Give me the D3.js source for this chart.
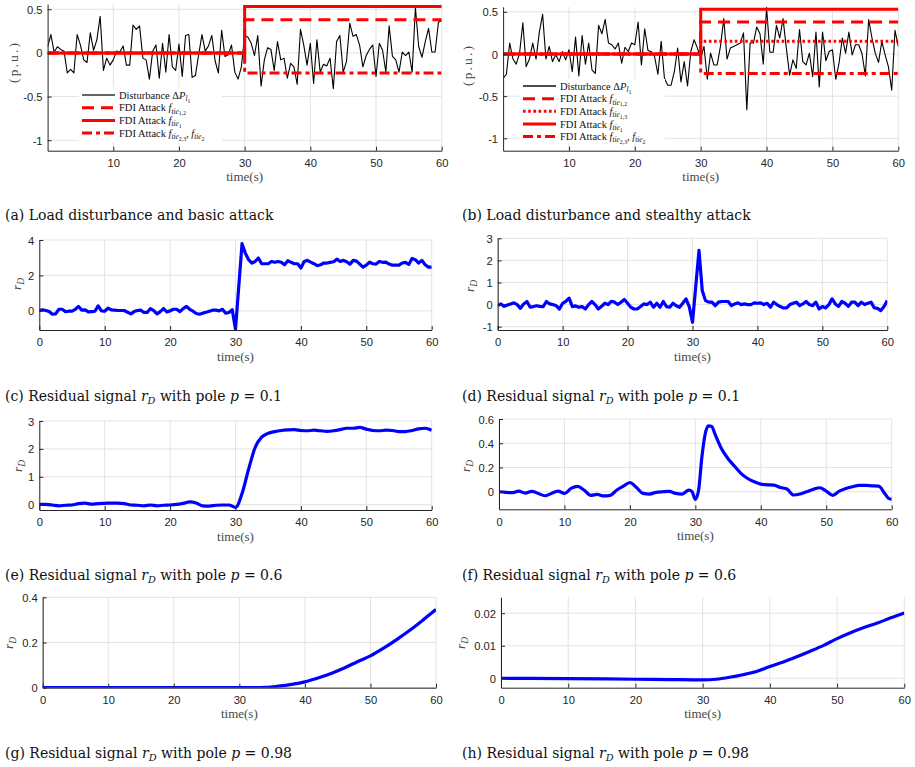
<!DOCTYPE html>
<html>
<head>
<meta charset="utf-8">
<script src="https://cdn.jsdelivr.net/npm/d3@7"></script>
<style>
  body { margin: 0; background: #fff; }
  svg { display: block; }
  text { white-space: pre; }
</style>
</head>
<body>
<svg id="fig" width="915" height="767"></svg>
<script>
// ---------------------------------------------------------------------------
// Data
// ---------------------------------------------------------------------------
// Sampling step (s) of the disturbance records and the p = 0.1 residuals
const STEP = 0.5;
const T_END = 60;
const attackStart = 30;

// Load disturbance ΔP_l1, basic-attack case (t = 0 … 60 s, step 0.5 s)
const disturbanceBasic = [
  0.07, 0.21, 0.01, 0.07, 0.04, 0.02, -0.23, -0.19, -0.23, 0.21,
  0.09, -0.08, -0.11, 0.23, 0.03, 0.15, 0.42, -0.20, -0.06, -0.14,
  -0.08, 0.02, 0.01, 0.08, -0.14, -0.14, 0.32, 0.27, 0.31, -0.06,
  -0.08, -0.30, 0.02, 0.09, -0.29, 0.11, -0.22, 0.21, -0.16, -0.20,
  0.10, -0.27, 0.20, 0.21, -0.28, -0.26, -0.02, 0.21, 0.02, 0.08,
  0.20, -0.09, -0.23, 0.26, -0.04, -0.02, 0.09, -0.22, -0.30, -0.16,
  0.20,
  0.18, 0.11, -0.03, 0.20, -0.38, -0.08, 0.06, 0.04, -0.20, 0.13,
  -0.08, -0.06, -0.29, -0.12, -0.16, -0.36, 0.27, 0.09, -0.14, 0.11,
  -0.35, 0.15, -0.22, -0.13, -0.15, -0.06, -0.41, 0.13, 0.20, -0.22,
  -0.10, 0.34, 0.19, 0.21, 0.09, -0.16, -0.03, 0.04, 0.09, -0.27,
  0.11, 0.03, -0.22, 0.31, -0.04, -0.08, -0.22, 0.01, -0.03, 0.01,
  -0.22, 0.52, 0.07, -0.05, 0.13, 0.28, 0.01, 0.01, 0.35, 0.37
];

// Load disturbance ΔP_l1, stealthy-attack case (t = 0 … 60 s, step 0.5 s)
const disturbanceStealthy = [
  -0.29, -0.24, 0.13, -0.06, -0.12, 0.01, 0.37, -0.15, -0.06, 0.13,
  -0.06, 0.26, 0.47, -0.06, 0.09, -0.09, -0.01, -0.09, 0.03, -0.07,
  0.05, -0.21, 0.20, -0.26, 0.22, -0.12, 0.13, -0.19, -0.23, 0.34,
  0.24, 0.41, 0.13, 0.11, 0.06, 0.13, -0.11, 0.08, 0.03, 0.13,
  0.11, 0.38, -0.13, 0.30, 0.04, 0.03, -0.03, -0.24, 0.15, -0.29,
  -0.37, -0.37, -0.21, 0.07, -0.33, -0.09, -0.38, 0.03, 0.17, 0.07,
  -0.05,
  0.09, -0.30, 0.01, -0.13, -0.13, 0.09, 0.42, -0.06, 0.07, 0.09,
  0.11, 0.13, 0.25, -0.66, 0.13, 0.13, 0.32, 0.24, -0.12, 0.55,
  0.02, 0.02, 0.34, 0.19, 0.42, 0.07, -0.25, -0.07, -0.17, 0.29,
  -0.09, -0.13, 0.01, -0.27, 0.26, -0.39, 0.26, -0.08, 0.03, 0.05,
  -0.30, -0.11, 0.19, 0.01, 0.26, -0.01, 0.11, 0.11, 0.00, -0.26,
  0.41, 0.19, 0.01, -0.10, 0.15, -0.01, -0.15, -0.43, 0.28, 0.09
];

// FDI attack levels applied from t = 30 s
// basic attack:    [f_tie12, f_tie1, f_tie23 = f_tie2]
const attackBasic = [0.38, 0.53, -0.23];
// stealthy attack: [f_tie12, f_tie13, f_tie1, f_tie23 = f_tie2]
const attackStealthy = [0.38, 0.15, 0.53, -0.23];

// Residual r_D, pole p = 0.1 (t = 0 … 60 s, step 0.5 s)
const residualP01Basic = [
  0.02, 0.06, 0.02, -0.04, -0.19, -0.17, 0.09, 0.09, -0.04, -0.02,
  -0.02, 0.09, 0.25, 0.04, 0.06, -0.06, -0.04, -0.02, 0.28, 0.00,
  -0.02, 0.15, 0.06, 0.04, 0.02, 0.02, 0.02, -0.08, -0.17, -0.04,
  0.02, 0.04, -0.09, -0.09, 0.13, 0.02, -0.17, -0.04, 0.13, -0.06,
  0.00, 0.09, 0.09, -0.04, 0.13, 0.25, 0.09, -0.02, -0.15, -0.19,
  -0.13, -0.08, -0.02, 0.04, 0.04, 0.00, 0.09, -0.13, -0.09, 0.06,
  -1.04,
  1.38, 3.79, 3.26, 2.89, 2.70, 2.79, 2.98, 2.66, 2.66, 2.66,
  2.79, 2.74, 2.79, 2.74, 2.60, 2.83, 2.74, 2.66, 2.66, 2.42,
  2.79, 2.85, 2.75, 2.66, 2.55, 2.60, 2.70, 2.70, 2.74, 2.77,
  2.92, 2.79, 2.85, 2.77, 2.64, 2.85, 2.81, 2.64, 2.47, 2.58,
  2.75, 2.66, 2.64, 2.79, 2.74, 2.75, 2.64, 2.58, 2.58, 2.58,
  2.70, 2.74, 2.62, 2.96, 2.89, 2.70, 2.85, 2.60, 2.47, 2.47
];
const residualP01Stealthy = [
  -0.05, 0.03, -0.08, -0.02, 0.03, 0.08, 0.00, -0.17, 0.03, 0.14,
  -0.12, -0.09, -0.05, -0.08, -0.09, 0.14, 0.03, 0.00, -0.05, -0.20,
  0.06, 0.15, 0.29, -0.09, -0.06, -0.12, -0.09, -0.20, 0.00, 0.14,
  0.00, -0.20, -0.08, 0.06, 0.00, 0.15, 0.11, 0.00, 0.11, 0.23,
  0.06, -0.12, -0.20, -0.20, -0.09, 0.03, 0.00, 0.11, -0.12, 0.06,
  -0.12, 0.14, -0.09, -0.12, 0.06, -0.05, -0.12, 0.06, 0.26, -0.09,
  -0.80,
  0.82, 2.45, 0.64, 0.18, 0.11, 0.11, -0.05, 0.11, 0.14, 0.14,
  0.14, -0.05, 0.03, 0.08, 0.00, 0.03, 0.00, 0.00, 0.08, 0.06,
  0.08, 0.00, 0.06, -0.12, 0.11, 0.00, -0.09, -0.15, -0.15, 0.00,
  0.06, 0.11, -0.05, 0.03, 0.14, 0.00, -0.05, 0.11, -0.20, -0.09,
  -0.15, 0.00, 0.26, 0.03, -0.08, 0.14, 0.06, -0.08, 0.11, 0.11,
  -0.05, 0.11, 0.00, 0.06, 0.11, -0.15, -0.17, -0.27, -0.09, 0.18
];

// Residual r_D, pole p = 0.6
const timeP06Basic = [
  0, 1, 2, 3, 4, 5, 6, 7, 8, 9, 10, 11, 12, 13, 14, 15, 16, 17, 18, 19,
  20, 21, 22, 23, 24, 25, 26, 27, 28, 29, 30, 31, 32, 33, 34, 35, 36, 37, 38, 39,
  40, 41, 42, 43, 44, 45, 46, 47, 48, 49, 50, 51, 52, 53, 54, 55, 56, 57, 58, 59, 60
];
const residualP06Basic = [
  0.01, 0.01, -0.01, -0.04, -0.02, -0.01, 0.04, 0.06, 0.02, 0.04,
  0.05, 0.06, 0.06, 0.04, -0.01, -0.02, -0.04, -0.01, -0.04, -0.02,
  -0.01, 0.01, 0.05, 0.10, 0.06, -0.04, -0.05, -0.02, -0.01, -0.01,
  -0.10, 0.40, 1.27, 2.05, 2.42, 2.56, 2.62, 2.66, 2.68, 2.69,
  2.66, 2.65, 2.67, 2.65, 2.63, 2.65, 2.69, 2.74, 2.74, 2.77,
  2.71, 2.66, 2.65, 2.67, 2.66, 2.62, 2.62, 2.66, 2.72, 2.74,
  2.67
];
const timeP06Stealthy = [
  0, 1, 2, 3, 4, 5, 6, 7, 8, 9, 10, 11, 12, 13, 14, 15, 16, 17, 18, 19,
  20, 21, 22, 23, 24, 25, 26, 27, 28, 29, 29.5, 30, 30.5, 31, 31.5, 32, 32.5, 33,
  34, 35, 36, 37, 38, 39, 40, 41, 42, 43, 44, 45, 46, 47, 48, 49,
  50, 51, 52, 53, 54, 55, 56, 57, 58, 59, 59.5, 60
];
const residualP06Stealthy = [
  0.000, -0.005, -0.008, 0.005, -0.011, 0.003, -0.014, -0.033, -0.014, 0.005,
  -0.014, 0.027, 0.044, 0.014, -0.030, -0.022, -0.035, -0.030, 0.014, 0.046,
  0.076, 0.035, -0.014, -0.019, -0.005, 0.000, 0.003, -0.014, -0.019, 0.014,
  0.000, -0.063, 0.014, 0.286, 0.476, 0.544, 0.539, 0.476,
  0.354, 0.272, 0.210, 0.150, 0.109, 0.082, 0.063, 0.057, 0.054, 0.035,
  0.022, -0.027, -0.019, 0.000, 0.019, 0.033, 0.005, -0.030, 0.005, 0.027,
  0.041, 0.052, 0.052, 0.049, 0.046, -0.019, -0.054, -0.063
];

// Residual r_D, pole p = 0.98
const timeP098Basic = [0, 10, 20, 30, 32, 34, 36, 38, 40, 42, 44, 46, 48, 50, 52, 54, 56, 58, 60];
const residualP098Basic = [
  0, 0, 0, 0, 0.0003, 0.0015, 0.007, 0.015, 0.026, 0.043,
  0.063, 0.087, 0.115, 0.141, 0.175, 0.213, 0.254, 0.299, 0.346
];
const timeP098Stealthy = [0, 10, 20, 25, 30, 32, 34, 36, 38, 40, 42, 44, 46, 48, 50, 52, 54, 56, 58, 60];
const residualP098Stealthy = [
  0, -0.0001, -0.0003, -0.0004, -0.0005, -0.0003, 0.0003, 0.0011, 0.0021, 0.0036,
  0.0050, 0.0066, 0.0083, 0.0101, 0.0122, 0.0140, 0.0156, 0.0170, 0.0186, 0.0201
];

// Tick values and labels
const xTicksAttack = [10, 20, 30, 40, 50, 60];
const xTicksResidual = [0, 10, 20, 30, 40, 50, 60];
const yTicksPU = [-1, -0.5, 0, 0.5];
const yLabelsPU = ["-1", "-0.5", "0", "0.5"];
const yTicksC = [0, 2, 4];
const yLabelsC = ["0", "2", "4"];
const yTicksD = [-1, 0, 1, 2, 3];
const yLabelsD = ["-1", "0", "1", "2", "3"];
const yTicksE = [0, 1, 2, 3];
const yLabelsE = ["0", "1", "2", "3"];
const yTicksF = [0, 0.2, 0.4, 0.6];
const yLabelsF = ["0", "0.2", "0.4", "0.6"];
const yTicksG = [0, 0.2, 0.4];
const yLabelsG = ["0", "0.2", "0.4"];
const yTicksH = [0, 0.01, 0.02];
const yLabelsH = ["0", "0.01", "0.02"];

// ---------------------------------------------------------------------------
// Styles
// ---------------------------------------------------------------------------
const RED = "#ff0000", BLUE = "#0000ff", BLACK = "#000000";
const AXIS = "#262626", GRID = "#e3e3e3", LABEL = "#474747";
const SANS = "'Liberation Sans', Arial, sans-serif";
const SERIF = "'Liberation Serif', 'Times New Roman', serif";
const CAPTION_SERIF = "'DejaVu Serif', serif";
const DASH = "12,7", DOT = "2.6,2.6", DASHDOT = "10,4,4,4";

const styleDist = { stroke: BLACK, width: 1.1, dash: null };
const styleTie12 = { stroke: RED, width: 3, dash: DASH };
const styleTie13 = { stroke: RED, width: 3, dash: DOT };
const styleTie1 = { stroke: RED, width: 3, dash: null };
const styleTie23 = { stroke: RED, width: 3, dash: DASHDOT };

// Math-style labels: parts with italic flag and subscript level
const labDist = [{ t: "Disturbance Δ" }, { t: "P", i: 1 }, { t: "l", i: 1, l: 1 }, { t: "1", l: 2 }];
const labTie12 = [{ t: "FDI Attack " }, { t: "f", i: 1 }, { t: "tie", i: 1, l: 1 }, { t: "1,2", l: 2 }];
const labTie13 = [{ t: "FDI Attack " }, { t: "f", i: 1 }, { t: "tie", i: 1, l: 1 }, { t: "1,3", l: 2 }];
const labTie1 = [{ t: "FDI Attack " }, { t: "f", i: 1 }, { t: "tie", i: 1, l: 1 }, { t: "1", l: 2 }];
const labTie23 = [{ t: "FDI Attack " }, { t: "f", i: 1 }, { t: "tie", i: 1, l: 1 }, { t: "2,3", l: 2 },
                  { t: ", " }, { t: "f", i: 1 }, { t: "tie", i: 1, l: 1 }, { t: "2", l: 2 }];
const labRD = [{ t: "r", i: 1 }, { t: "D", i: 1, l: 1 }];

function residualCaption(letter, pole) {
  return [{ t: "(" + letter + ") Residual signal " }, { t: "r", i: 1 }, { t: "D", i: 1, l: 1 },
          { t: " with pole " }, { t: "p", i: 1 }, { t: " = " + pole }];
}

// ---------------------------------------------------------------------------
// Helpers
// ---------------------------------------------------------------------------
const svg = d3.select("#fig");

function richText(sel, parts, size) {
  const scale = [1, 0.7, 0.55];
  const shift = [0, 0.22, 0.4];
  let cur = 0;
  parts.forEach(p => {
    const lvl = p.l || 0;
    const off = shift[lvl] * size;
    sel.append("tspan")
      .attr("dy", (off - cur).toFixed(2))
      .attr("font-size", size * scale[lvl])
      .attr("font-style", p.i ? "italic" : "normal")
      .text(p.t);
    cur = off;
  });
  return sel;
}

function stepSeries(level) {
  return [[0, 0], [attackStart, 0], [attackStart, level], [T_END, level]];
}

function applyStyle(sel, st) {
  sel.attr("fill", "none")
    .attr("stroke", st.stroke)
    .attr("stroke-width", st.width)
    .attr("stroke-dasharray", st.dash);
}

// ---------------------------------------------------------------------------
// Panels
// ---------------------------------------------------------------------------
const panels = [
  { id: "a", x0: 47.6, x1: 441.7, y0: 4, y1: 150.7, yd: [-1.12, 0.56],
    xt: xTicksAttack, yt: yTicksPU, ytl: yLabelsPU,
    ylab: "pu", ylx: 14, yly: 63, capX: 5, capY: 220,
    caption: [{ t: "(a) Load disturbance and basic attack" }] },
  { id: "b", x0: 503.1, x1: 898.3, y0: 6.8, y1: 150.7, yd: [-1.147, 0.56],
    xt: xTicksAttack, yt: yTicksPU, ytl: yLabelsPU,
    ylab: "pu", ylx: 468, yly: 66, capX: 462, capY: 220,
    caption: [{ t: "(b) Load disturbance and stealthy attack" }] },
  { id: "c", x0: 39.3, x1: 431.7, y0: 240, y1: 330, yd: [-1.08, 4],
    xt: xTicksResidual, yt: yTicksC, ytl: yLabelsC,
    ylab: "rd", ylx: 21, yly: 284, capX: 5, capY: 401,
    caption: residualCaption("c", "0.1") },
  { id: "d", x0: 497.7, x1: 887.3, y0: 238.3, y1: 330, yd: [-1.15, 3],
    xt: xTicksResidual, yt: yTicksD, ytl: yLabelsD,
    ylab: "rd", ylx: 474, yly: 286, capX: 462, capY: 401,
    caption: residualCaption("d", "0.1") },
  { id: "e", x0: 39.3, x1: 431.7, y0: 421, y1: 510, yd: [-0.19, 3],
    xt: xTicksResidual, yt: yTicksE, ytl: yLabelsE,
    ylab: "rd", ylx: 22, yly: 466, capX: 5, capY: 580,
    caption: residualCaption("e", "0.6") },
  { id: "f", x0: 499, x1: 891.7, y0: 419, y1: 509.3, yd: [-0.145, 0.6],
    xt: xTicksResidual, yt: yTicksF, ytl: yLabelsF,
    ylab: "rd", ylx: 470, yly: 466, capX: 462, capY: 580,
    caption: residualCaption("f", "0.6") },
  { id: "g", x0: 42.7, x1: 436, y0: 597.3, y1: 687.7, yd: [0, 0.4],
    xt: xTicksResidual, yt: yTicksG, ytl: yLabelsG,
    ylab: "rd", ylx: 13, yly: 643, capX: 5, capY: 758,
    caption: residualCaption("g", "0.98") },
  { id: "h", x0: 501, x1: 904.3, y0: 597.3, y1: 687.7, yd: [-0.0029, 0.0249],
    xt: xTicksResidual, yt: yTicksH, ytl: yLabelsH,
    ylab: "rd", ylx: 465, yly: 643, capX: 462, capY: 758,
    caption: residualCaption("h", "0.98") }
];

const defs = svg.append("defs");

panels.forEach(p => {
  p.xs = d3.scaleLinear().domain([0, T_END]).range([p.x0, p.x1]);
  p.ys = d3.scaleLinear().domain(p.yd).range([p.y1, p.y0]);

  const g = svg.append("g").attr("class", "panel-" + p.id);

  // grid
  g.append("g").selectAll("line").data(p.xt).join("line")
    .attr("x1", d => p.xs(d)).attr("x2", d => p.xs(d))
    .attr("y1", p.y0).attr("y2", p.y1)
    .attr("stroke", GRID).attr("stroke-width", 1);
  g.append("g").selectAll("line").data(p.yt).join("line")
    .attr("x1", p.x0).attr("x2", p.x1)
    .attr("y1", d => p.ys(d)).attr("y2", d => p.ys(d))
    .attr("stroke", GRID).attr("stroke-width", 1);

  // clip region for the data
  defs.append("clipPath").attr("id", "clip-" + p.id)
    .append("rect")
    .attr("x", p.x0).attr("y", p.y0 - 1)
    .attr("width", p.x1 - p.x0).attr("height", p.y1 - p.y0 + 1);
  p.plot = g.append("g").attr("clip-path", `url(#clip-${p.id})`);

  // axes
  const xAxis = g.append("g").attr("transform", `translate(0,${p.y1})`)
    .call(d3.axisBottom(p.xs).tickValues(p.xt).tickFormat(d => String(d))
      .tickSizeInner(-4).tickSizeOuter(0).tickPadding(8.5));
  const yAxis = g.append("g").attr("transform", `translate(${p.x0},0)`)
    .call(d3.axisLeft(p.ys).tickValues(p.yt).tickFormat((d, i) => p.ytl[i])
      .tickSizeInner(-4).tickSizeOuter(0).tickPadding(5));
  [xAxis, yAxis].forEach(a => {
    a.attr("font-family", SANS).attr("font-size", 11.2);
    a.selectAll("path,line").attr("stroke", AXIS).attr("stroke-width", 1);
    a.selectAll("text").attr("fill", AXIS);
  });
  yAxis.selectAll("text").attr("dy", "0.36em");

  // x label
  g.append("text")
    .attr("x", (p.x0 + p.x1) / 2).attr("y", p.y1 + 30.5)
    .attr("text-anchor", "middle")
    .attr("font-family", SERIF).attr("font-size", 13).attr("fill", LABEL)
    .text("time(s)");

  // y label
  const yl = g.append("text")
    .attr("transform", `translate(${p.ylx},${p.yly}) rotate(-90)`)
    .attr("text-anchor", "middle").attr("dy", "0.33em")
    .attr("font-family", SERIF).attr("fill", LABEL);
  if (p.ylab === "pu") {
    yl.attr("font-size", 13.5).attr("textLength", 40).attr("lengthAdjust", "spacing").text("(p.u.)");
  } else {
    richText(yl, labRD, 13.5);
  }

  // caption
  richText(svg.append("text")
    .attr("x", p.capX).attr("y", p.capY)
    .attr("font-family", CAPTION_SERIF).attr("fill", "#111"), p.caption, 14);
});

const P = Object.fromEntries(panels.map(p => [p.id, p]));

// ---------------------------------------------------------------------------
// (a) and (b): disturbance and FDI attacks
// ---------------------------------------------------------------------------
function drawAttackPanel(p, disturbance, series, legend) {
  const lineDist = d3.line().x((d, i) => p.xs(i * STEP)).y(d => p.ys(d));
  const lineStep = d3.line().x(d => p.xs(d[0])).y(d => p.ys(d[1]));
  applyStyle(p.plot.append("path").datum(disturbance).attr("d", lineDist)
    .attr("stroke-linejoin", "round"), styleDist);
  series.forEach(s => {
    applyStyle(p.plot.append("path").datum(stepSeries(s.level)).attr("d", lineStep), s.style);
  });

  // legend
  const lg = svg.append("g");
  lg.append("rect")
    .attr("x", legend.bx0).attr("y", legend.by0)
    .attr("width", legend.bx1 - legend.bx0).attr("height", legend.by1 - legend.by0)
    .attr("fill", "#fff");
  legend.entries.forEach((e, k) => {
    const y = legend.rows[k];
    applyStyle(lg.append("line")
      .attr("x1", legend.sx0).attr("x2", legend.sx1).attr("y1", y).attr("y2", y), e.style);
    richText(lg.append("text").attr("x", legend.tx).attr("y", y + 3.5)
      .attr("font-family", SERIF).attr("fill", "#111"), e.label, 10.5);
  });
}

drawAttackPanel(P.a, disturbanceBasic, [
  { level: attackBasic[0], style: styleTie12 },
  { level: attackBasic[1], style: styleTie1 },
  { level: attackBasic[2], style: styleTie23 }
], {
  bx0: 79, bx1: 222, by0: 87, by1: 142,
  sx0: 82, sx1: 115, tx: 119,
  rows: [95, 107.7, 120.4, 133],
  entries: [
    { style: { stroke: "#333", width: 1.3 }, label: labDist },
    { style: styleTie12, label: labTie12 },
    { style: styleTie1, label: labTie1 },
    { style: styleTie23, label: labTie23 }
  ]
});

drawAttackPanel(P.b, disturbanceStealthy, [
  { level: attackStealthy[0], style: styleTie12 },
  { level: attackStealthy[1], style: styleTie13 },
  { level: attackStealthy[2], style: styleTie1 },
  { level: attackStealthy[3], style: styleTie23 }
], {
  bx0: 519, bx1: 665, by0: 79, by1: 143,
  sx0: 523, sx1: 556, tx: 560,
  rows: [86, 98.7, 111.3, 124, 136.6],
  entries: [
    { style: { stroke: "#111", width: 1.3 }, label: labDist },
    { style: styleTie12, label: labTie12 },
    { style: styleTie13, label: labTie13 },
    { style: styleTie1, label: labTie1 },
    { style: styleTie23, label: labTie23 }
  ]
});

// ---------------------------------------------------------------------------
// (c)–(h): residual signals
// ---------------------------------------------------------------------------
function drawResidual(p, times, values, curve) {
  const line = d3.line()
    .x((d, i) => p.xs(times ? times[i] : i * STEP))
    .y(d => p.ys(d))
    .curve(curve);
  p.plot.append("path").datum(values).attr("d", line)
    .attr("fill", "none").attr("stroke", BLUE).attr("stroke-width", 3.2)
    .attr("stroke-linejoin", "round");
}

drawResidual(P.c, null, residualP01Basic, d3.curveLinear);
drawResidual(P.d, null, residualP01Stealthy, d3.curveLinear);
drawResidual(P.e, timeP06Basic, residualP06Basic, d3.curveMonotoneX);
drawResidual(P.f, timeP06Stealthy, residualP06Stealthy, d3.curveMonotoneX);
drawResidual(P.g, timeP098Basic, residualP098Basic, d3.curveMonotoneX);
drawResidual(P.h, timeP098Stealthy, residualP098Stealthy, d3.curveMonotoneX);
</script>
</body>
</html>
